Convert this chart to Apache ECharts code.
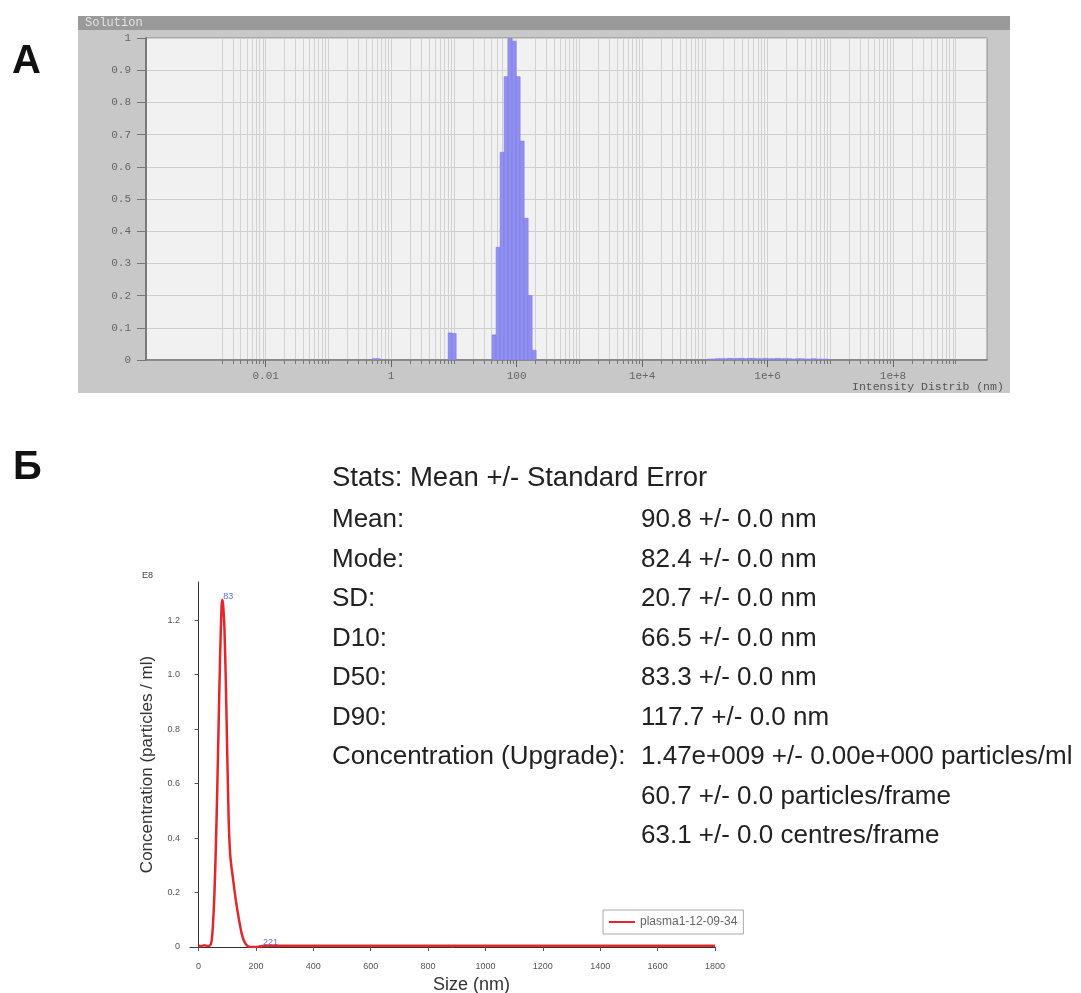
<!DOCTYPE html>
<html><head><meta charset="utf-8">
<script src="https://cdn.jsdelivr.net/npm/echarts@6/dist/echarts.min.js"></script>
<style>html,body{margin:0;padding:0;background:#fff;}#c{width:1081px;height:993px;}</style>
</head><body><div id="c"></div>
<script>
// ---------- Panel A: intensity distribution (bin centre size, nm ; intensity) ----------
const binSizes  = [0.5365, 0.6213, 8.721, 10.1, 43.82, 50.75, 58.77, 68.06, 78.82, 91.28, 105.7, 122.4, 141.8, 164.2, 190.1];
const binValues = [0.004, 0.004, 0.084, 0.082, 0.078, 0.35, 0.645, 0.88, 1.0, 0.99, 0.88, 0.68, 0.44, 0.2, 0.03];
const tailSizes  = [1.2e5, 1.39e5, 1.61e5, 1.86e5, 2.16e5, 2.5e5, 2.89e5, 3.35e5, 3.88e5, 4.49e5, 5.2e5, 6.02e5, 6.97e5, 8.07e5, 9.35e5,
                    1.08e6, 1.25e6, 1.45e6, 1.68e6, 1.95e6, 2.25e6, 2.61e6, 3.02e6, 3.5e6, 4.05e6, 4.69e6, 5.43e6, 6.29e6, 7.28e6, 8.43e6];
const tailValues = [0.003, 0.003, 0.004, 0.004, 0.004, 0.005, 0.004, 0.005, 0.005, 0.004, 0.005, 0.005, 0.004, 0.004, 0.005,
                    0.004, 0.004, 0.005, 0.004, 0.004, 0.004, 0.003, 0.004, 0.004, 0.003, 0.003, 0.004, 0.003, 0.003, 0.003];
const topTickValues = [0.01, 1, 100, 1e4, 1e6, 1e8];
const topTickLabels = ['0.01', '1', '100', '1e+4', '1e+6', '1e+8'];
const topYTicks = [0, 0.1, 0.2, 0.3, 0.4, 0.5, 0.6, 0.7, 0.8, 0.9, 1];
const topYLabels = ['0', '0.1', '0.2', '0.3', '0.4', '0.5', '0.6', '0.7', '0.8', '0.9', '1'];

// ---------- Panel B: NTA size distribution ----------
const sizeNm = [0, 10, 20, 30, 40, 45, 50, 55, 60, 65, 70, 75, 80, 83, 86, 90, 95, 100, 105, 110, 115, 120, 130, 140, 150, 160, 170, 180, 200, 221, 250,
                300, 400, 500, 600, 700, 800, 900, 1000, 1100, 1200, 1300, 1400, 1500, 1600, 1700, 1800];
const concentration = [0.005, 0.004, 0.006, 0.004, 0.006, 0.02, 0.08, 0.19, 0.36, 0.58, 0.83, 1.07, 1.25, 1.275, 1.25, 1.17, 0.97, 0.7, 0.46, 0.34, 0.29, 0.25, 0.17, 0.105, 0.05, 0.018, 0.004, 0.0, 0.0, 0.004, 0.005,
                0.005, 0.005, 0.005, 0.005, 0.005, 0.005, 0.005, 0.005, 0.005, 0.005, 0.005, 0.005, 0.005, 0.005, 0.005, 0.005];
const peakLabels = [[83, 1.275, '83'], [221, 0.004, '221']];
const bottomXTicks = [0, 200, 400, 600, 800, 1000, 1200, 1400, 1600, 1800];
const bottomYTicks = [0, 0.2, 0.4, 0.6, 0.8, 1.0, 1.2];
const seriesName = 'plasma1-12-09-34';
const statsTitle = 'Stats: Mean +/- Standard Error';
const statNames = ['Mean:', 'Mode:', 'SD:', 'D10:', 'D50:', 'D90:', 'Concentration (Upgrade):', '', ''];
const statVals  = ['90.8 +/- 0.0 nm', '82.4 +/- 0.0 nm', '20.7 +/- 0.0 nm', '66.5 +/- 0.0 nm', '83.3 +/- 0.0 nm', '117.7 +/- 0.0 nm',
                   '1.47e+009 +/- 0.00e+000 particles/ml', '60.7 +/- 0.0 particles/frame', '63.1 +/- 0.0 centres/frame'];

// grid lines of the log axis: 2..9 x 10^n
const logGrid = [];
for (let e = -3; e <= 9; e++) for (let k = 1; k <= 9; k++) {
  const v = +(k * Math.pow(10, e)).toPrecision(6);
  if (v >= 0.002 && v <= 1e9) logGrid.push(v);
}

const BIN_HALF = 1.0762;
function renderBin(params, api) {
  const c = api.value(0), v = api.value(1);
  const a = api.coord([c / BIN_HALF, v]);
  const b = api.coord([c * BIN_HALF, 0]);
  return { type: 'rect', shape: { x: a[0], y: a[1], width: Math.max(b[0] - a[0], 1), height: b[1] - a[1] },
           style: { fill: '#9090f2', stroke: '#7a7ae0', lineWidth: 0.6 } };
}

const mono = 'Liberation Mono';
const sans = 'Liberation Sans';
const rowFont = '26px ' + sans;

const graphics = [
  { type: 'rect', z: -10, shape: { x: 78, y: 16, width: 932, height: 377 }, style: { fill: '#c8c8c8' } },
  { type: 'rect', z: -9, shape: { x: 78, y: 16, width: 932, height: 14 }, style: { fill: '#9a9a9a' } },
  { type: 'text', z: -8, x: 85, y: 23, style: { text: 'Solution', fill: '#e2e2e2', font: '12px ' + mono, verticalAlign: 'middle' } },
  { type: 'text', x: 852, y: 387, style: { text: 'Intensity Distrib (nm)', fill: '#555', font: '11.5px ' + mono, verticalAlign: 'middle' } },
  { type: 'text', x: 12, y: 62, style: { text: 'А', fill: '#111', font: 'bold 40px ' + sans, verticalAlign: 'middle' } },
  { type: 'text', x: 13, y: 468, style: { text: 'Б', fill: '#111', font: 'bold 40px ' + sans, verticalAlign: 'middle' } },
  { type: 'text', x: 142, y: 576, style: { text: 'E8', fill: '#444', font: '9px ' + sans, verticalAlign: 'middle' } },
  { type: 'text', x: 433, y: 985, style: { text: 'Size (nm)', fill: '#333', font: '18px ' + sans, verticalAlign: 'middle' } },
  { type: 'text', x: 332, y: 478, style: { text: statsTitle, fill: '#222', font: '27.5px ' + sans, verticalAlign: 'middle' } }
];
statNames.forEach((n, i) => {
  const y = 520 + i * 39.5;
  if (n) graphics.push({ type: 'text', x: 332, y: y, style: { text: n, fill: '#222', font: rowFont, verticalAlign: 'middle' } });
  graphics.push({ type: 'text', x: 641, y: y, style: { text: statVals[i], fill: '#222', font: rowFont, verticalAlign: 'middle' } });
});

const chart = echarts.init(document.getElementById('c'), null, { renderer: 'canvas' });
chart.setOption({
  animation: false,
  backgroundColor: '#fff',
  graphic: graphics,
  legend: {
    data: [seriesName], left: 603, top: 910, icon: 'rect', itemWidth: 26, itemHeight: 2, itemGap: 6,
    backgroundColor: '#fff', borderColor: '#aaa', borderWidth: 1, borderRadius: 0, padding: [6, 6, 6, 6],
    textStyle: { fontSize: 12, color: '#666', fontFamily: sans }
  },
  grid: [
    { left: 146, top: 38, width: 841, height: 322, show: true, backgroundColor: '#f1f1f1', borderColor: '#8a8a8a', borderWidth: 1, containLabel: false },
    { left: 190, right: 366, top: 582, bottom: 46, show: false, containLabel: false }
  ],
  xAxis: [
    { type: 'log', gridIndex: 0, min: 1.236e-4, max: 3.15e9, logBase: 10,
      axisLine: { show: true, lineStyle: { color: '#777', width: 1.5 } },
      axisTick: { show: true, customValues: logGrid, length: 4, lineStyle: { color: '#777' } },
      axisLabel: { show: true, customValues: topTickValues, margin: 11, color: '#666', fontFamily: mono, fontSize: 11,
                   formatter: v => { const i = topTickValues.findIndex(t => Math.abs(Math.log10(t) - Math.log10(v)) < 1e-6); return i >= 0 ? topTickLabels[i] : ''; } },
      splitLine: { show: true, lineStyle: { color: '#d2d2d2', width: 1 } },
      minorTick: { show: false }, minorSplitLine: { show: false } },
    { type: 'log', gridIndex: 0, min: 1.236e-4, max: 3.15e9, logBase: 10, position: 'bottom',
      axisLine: { show: false },
      axisTick: { show: true, customValues: topTickValues, length: 7, lineStyle: { color: '#666' } },
      axisLabel: { show: false }, splitLine: { show: false } },
    { type: 'value', gridIndex: 1, min: -30, max: 1800,
      axisLine: { show: true, onZero: true, lineStyle: { color: '#333', width: 1 } },
      axisTick: { show: true, customValues: bottomXTicks, length: 4, lineStyle: { color: '#555' } },
      axisLabel: { customValues: bottomXTicks, color: '#555', fontSize: 9, fontFamily: sans, margin: 15,
                   formatter: v => String(v) },
      splitLine: { show: false } }
  ],
  yAxis: [
    { type: 'value', gridIndex: 0, min: 0, max: 1, interval: 0.1,
      axisLine: { show: true, lineStyle: { color: '#7a7a7a', width: 2 } },
      axisTick: { show: true, length: 9, lineStyle: { color: '#777' } },
      axisLabel: { color: '#666', fontFamily: mono, fontSize: 11, margin: 15,
                   formatter: v => { const i = topYTicks.findIndex(t => Math.abs(t - v) < 1e-6); return i >= 0 ? topYLabels[i] : ''; } },
      splitLine: { show: true, lineStyle: { color: '#cdcdcd' } } },
    { type: 'value', gridIndex: 1, min: 0, max: 1.34,
      axisLine: { show: true, onZero: true, lineStyle: { color: '#333', width: 1 } },
      axisTick: { show: true, customValues: bottomYTicks, length: 4, lineStyle: { color: '#555' } },
      axisLabel: { customValues: bottomYTicks, color: '#555', fontSize: 9, fontFamily: sans, margin: 10,
                   formatter: v => v === 0 ? '0' : v.toFixed(1) },
      splitLine: { show: false },
      name: 'Concentration (particles / ml)', nameLocation: 'middle', nameRotate: 90, nameGap: 34,
      nameTextStyle: { fontSize: 17, color: '#333', fontFamily: sans } }
  ],
  series: [
    { type: 'custom', name: 'bins', xAxisIndex: 0, yAxisIndex: 0, renderItem: renderBin, clip: true,
      encode: { x: 0, y: 1 }, data: binSizes.map((s, i) => [s, binValues[i]]) },
    { type: 'custom', name: 'tail', xAxisIndex: 0, yAxisIndex: 0, renderItem: renderBin, clip: true,
      encode: { x: 0, y: 1 }, data: tailSizes.map((s, i) => [s, tailValues[i]]) },
    { type: 'line', name: seriesName, xAxisIndex: 2, yAxisIndex: 1, smooth: 0.2, showSymbol: false, symbol: 'none',
      lineStyle: { color: '#e3262b', width: 2.5 }, itemStyle: { color: '#e3262b' },
      data: sizeNm.map((s, i) => [s, concentration[i]]) },
    { type: 'scatter', name: 'peaks', xAxisIndex: 2, yAxisIndex: 1, symbolSize: 0.1, silent: true,
      itemStyle: { color: 'rgba(0,0,0,0)' },
      label: { show: true, position: [1, -8], align: 'left', color: '#3344dd', fontSize: 9, fontFamily: sans,
               formatter: p => p.data[2] },
      data: peakLabels }
  ]
});
</script></body></html>
